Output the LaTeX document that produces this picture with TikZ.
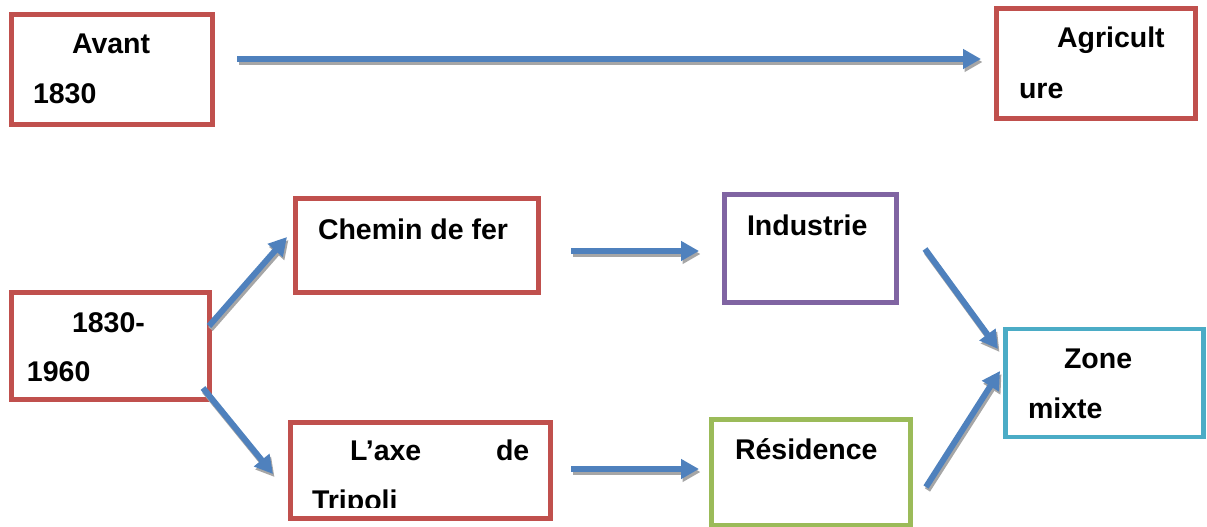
\documentclass[tikz,border=0pt]{standalone}
\usepackage{fontspec}
\setmainfont{Liberation Sans}
\usetikzlibrary{arrows.meta}
\definecolor{cred}{HTML}{C0504D}
\definecolor{cpurple}{HTML}{8064A2}
\definecolor{cgreen}{HTML}{9BBB59}
\definecolor{ccyan}{HTML}{4BACC6}
\definecolor{cblue}{HTML}{4F81BD}
\definecolor{cshadow}{HTML}{A6A6A6}
\begin{document}
\begin{tikzpicture}[x=1pt,y=-1pt,
  box/.style={draw, line width=4.5pt, rectangle, inner sep=0pt, outer sep=0pt},
  lbl/.style={anchor=base west, inner sep=0pt, outer sep=0pt,
    font=\fontsize{28.5}{34}\selectfont\bfseries},
  arr/.style={draw=cblue, line width=6pt, -{Triangle[length=18pt,width=19pt]},
    preaction={draw=cshadow, line width=6pt, -{Triangle[length=18pt,width=19pt]},
      transform canvas={shift={(1.5pt,-3pt)}}}}]
\useasboundingbox (0,0) rectangle (1207,527);
% boxes
\node[box, draw=cred, minimum width=201pt, minimum height=110pt] (avant) at (112,69.5) {};
\node[box, draw=cred, minimum width=199pt, minimum height=110pt] (agri) at (1096,63.5) {};
\node[box, draw=cred, minimum width=243pt, minimum height=94pt] (chemin) at (417,245.5) {};
\node[box, draw=cpurple, minimum width=172pt, minimum height=108pt] (indus) at (810.5,248.5) {};
\node[box, draw=cred, minimum width=198pt, minimum height=107pt] (periode) at (110.5,346) {};
\node[box, draw=cred, minimum width=260pt, minimum height=96pt] (tripoli) at (420.5,470.5) {};
\node[box, draw=cgreen, minimum width=199pt, minimum height=106pt] (resid) at (811,472.5) {};
\node[box, draw=ccyan, minimum width=198pt, minimum height=108pt] (zone) at (1104.5,383) {};
% texts
\node[lbl] (t1) at (72,54) {Avant};
\node[lbl] (t2) at (33,103) {1830};
\node[lbl] (t3) at (1057,48) {Agricult};
\node[lbl] (t4) at (1019,98) {ure};
\node[lbl] (t5) at (318,239) {Chemin de fer};
\node[lbl] (t6) at (747,235) {Industrie};
\node[lbl] (t7) at (72,332) {1830-};
\node[lbl] (t8) at (27,381) {1960};
\node[lbl] (t9) at (350,460) {L’axe};
\node[lbl] (t10) at (496,460) {de};
\begin{scope}
\clip (292,480) rectangle (549,507);
\node[lbl] (t11) at (312,510.5) {Tripoli};
\end{scope}
\node[lbl] (t12) at (735,459) {Résidence};
\node[lbl] (t13) at (1064,368) {Zone};
\node[lbl] (t14) at (1028,418) {mixte};
% arrow end points
\coordinate (a1s) at (237,59);   \coordinate (a1e) at (981,59);
\coordinate (a2s) at (209,326);  \coordinate (a2e) at (287,237);
\coordinate (a3s) at (203,388);  \coordinate (a3e) at (273,474);
\coordinate (a4s) at (571,251);  \coordinate (a4e) at (699,251);
\coordinate (a5s) at (571,469);  \coordinate (a5e) at (699,469);
\coordinate (a6s) at (925,249);  \coordinate (a6e) at (998,349);
\coordinate (a7s) at (926,487);  \coordinate (a7e) at (1000,371);
\draw[arr] (a1s) -- (a1e);
\draw[arr] (a2s) -- (a2e);
\draw[arr] (a3s) -- (a3e);
\draw[arr] (a4s) -- (a4e);
\draw[arr] (a5s) -- (a5e);
\draw[arr] (a6s) -- (a6e);
\draw[arr] (a7s) -- (a7e);
\end{tikzpicture}
\end{document}
